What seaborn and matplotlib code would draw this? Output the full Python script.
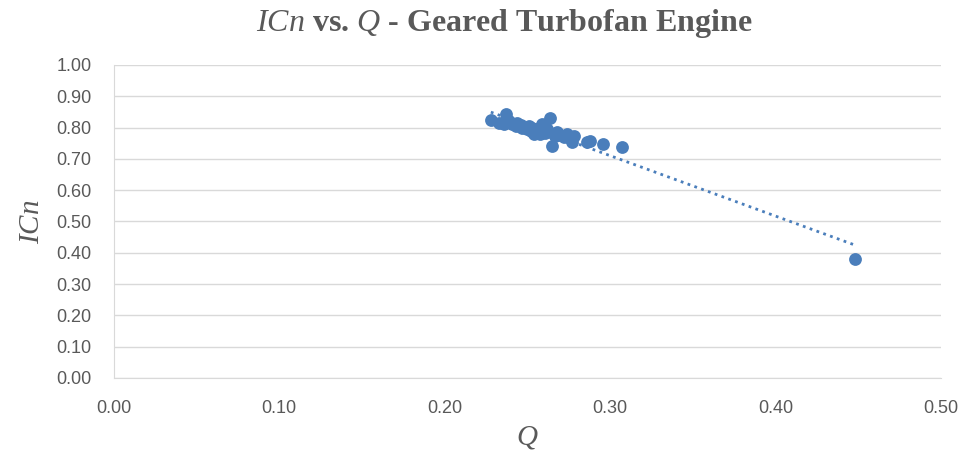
import seaborn as sns
import matplotlib.pyplot as plt
import pandas as pd

# Q and ICn values
q_vals = [0.228, 0.233, 0.236, 0.237, 0.239, 0.241, 0.243, 0.244, 0.246, 0.247,
          0.249, 0.250, 0.251, 0.252, 0.253, 0.254, 0.255, 0.256, 0.257, 0.258,
          0.259, 0.260, 0.261, 0.262, 0.264, 0.265, 0.266, 0.267, 0.268, 0.270,
          0.272, 0.274, 0.276, 0.277, 0.278, 0.286, 0.288, 0.296, 0.307, 0.448]
icn_vals = [0.824, 0.815, 0.810, 0.843, 0.820, 0.812, 0.805, 0.815, 0.808, 0.800,
            0.803, 0.795, 0.806, 0.790, 0.798, 0.780, 0.792, 0.785, 0.800, 0.778,
            0.812, 0.790, 0.782, 0.795, 0.831, 0.741, 0.780, 0.772, 0.785, 0.776,
            0.770, 0.778, 0.765, 0.755, 0.772, 0.754, 0.758, 0.748, 0.738, 0.380]
x_ticks = [0.0, 0.1, 0.2, 0.3, 0.4, 0.5]
y_ticks = [0.0, 0.1, 0.2, 0.3, 0.4, 0.5, 0.6, 0.7, 0.8, 0.9, 1.0]

df = pd.DataFrame({"Q": q_vals, "ICn": icn_vals})

sns.set_style("white")
plt.rcParams["mathtext.fontset"] = "custom"
plt.rcParams["mathtext.it"] = "Liberation Serif:italic"
plt.rcParams["mathtext.rm"] = "Liberation Serif"
plt.rcParams["mathtext.bf"] = "Liberation Serif:bold"

gray = "#595959"
blue = "#4a7ebb"

fig = plt.figure(figsize=(9.63, 4.57), dpi=100)
ax = fig.add_axes([0.118, 0.173, 0.859, 0.685])

# dotted linear trendline
sns.regplot(data=df, x="Q", y="ICn", scatter=False, ci=None, ax=ax,
            line_kws={"color": blue, "linestyle": (0, (1, 1.6)), "linewidth": 2})
sns.scatterplot(data=df, x="Q", y="ICn", ax=ax, color=blue, s=85,
                edgecolor=blue, linewidth=0, zorder=3)

ax.set_xlim(0, 0.5)
ax.set_ylim(0, 1.0)
ax.set_xticks(x_ticks)
ax.set_yticks(y_ticks)
ax.set_xticklabels([f"{v:.2f}" for v in x_ticks])
ax.set_yticklabels([f"{v:.2f}" for v in y_ticks])
ax.tick_params(axis="x", labelsize=13, colors=gray, length=0, pad=16)
ax.tick_params(axis="y", labelsize=13, colors=gray, length=0, pad=16)
for lbl in ax.get_xticklabels() + ax.get_yticklabels():
    lbl.set_fontfamily("Liberation Sans")

ax.grid(axis="y", color="#d9d9d9", linewidth=1)
ax.set_axisbelow(True)
for side in ["right", "top"]:
    ax.spines[side].set_visible(False)
ax.spines["bottom"].set_color("#d9d9d9")
ax.spines["left"].set_color("#d9d9d9")

ax.set_xlabel(r"$Q$", fontsize=21, color=gray, labelpad=4)
ax.set_ylabel(r"$ICn$", fontsize=21, color=gray, labelpad=8)
fig.suptitle(r"$ICn$ vs. $Q$ - Geared Turbofan Engine", x=0.524, y=0.985,
             fontsize=23, fontweight="bold", fontfamily="Liberation Serif", color=gray)

fig.savefig("out.png", dpi=100)
